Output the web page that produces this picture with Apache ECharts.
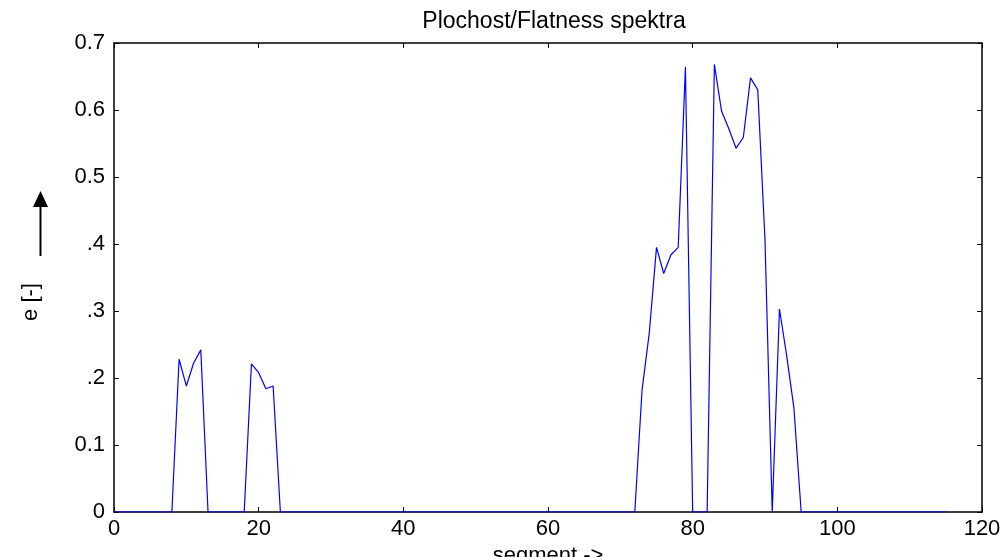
<!DOCTYPE html>
<html>
<head>
<meta charset="utf-8">
<script src="https://cdn.jsdelivr.net/npm/echarts@6/dist/echarts.min.js"></script>
<style>
html,body{margin:0;padding:0;background:#fff;}
#c{width:1005px;height:557px;}
</style>
</head>
<body>
<div id="c"></div>
<script>
// segment index 0..115
var segments = [];
for (var i = 0; i <= 115; i++) segments.push(i);

// non-zero flatness values (segment -> value); all others are 0
var block1X = [8, 9, 10, 11, 12, 13];
var block1Y = [0, 0.228, 0.188, 0.222, 0.242, 0];
var block2X = [18, 19, 20, 21, 22, 23];
var block2Y = [0, 0.221, 0.208, 0.184, 0.188, 0];
var block3X = [72, 73, 74, 75, 76, 77, 78, 79, 80, 81, 82, 83, 84, 85, 86, 87, 88, 89, 90, 91, 92, 93, 94, 95];
var block3Y = [0, 0.182, 0.267, 0.395, 0.356, 0.384, 0.395, 0.664, 0, 0, 0, 0.668, 0.598, 0.572, 0.543, 0.559, 0.648, 0.630, 0.406, 0, 0.303, 0.233, 0.155, 0];

var yTickLabels = ['0', '0.1', '.2', '.3', '.4', '0.5', '0.6', '0.7'];
var xTickLabels = ['0', '20', '40', '60', '80', '100', '120'];

var lookup = {};
[[block1X, block1Y], [block2X, block2Y], [block3X, block3Y]].forEach(function (b) {
  b[0].forEach(function (x, k) { lookup[x] = b[1][k]; });
});
var flatness = segments.map(function (x) { return [x, lookup[x] !== undefined ? lookup[x] : 0]; });

var FONT = 'Liberation Sans, Arial, sans-serif';
var chart = echarts.init(document.getElementById('c'), null, {renderer: 'canvas'});
var tickStyle = {show: true, inside: true, length: 5, lineStyle: {color: '#000', width: 1}};
var lineStyle = {show: true, onZero: false, lineStyle: {color: '#000', width: 1.5}};

chart.setOption({
  animation: false,
  backgroundColor: '#fff',
  title: {
    text: 'Plochost/Flatness spektra',
    left: 549, top: 5, textAlign: 'center',
    textStyle: {fontFamily: FONT, fontSize: 23, fontWeight: 'normal', color: '#000'}
  },
  grid: {left: 114, right: 23, top: 43, bottom: 45, containLabel: false, outerBoundsMode: 'none'},
  xAxis: [{
    type: 'value', position: 'bottom', min: 0, max: 120, interval: 20,
    name: 'segment ->', nameLocation: 'middle', nameGap: 27,
    nameTextStyle: {fontFamily: FONT, fontSize: 22, color: '#000'},
    axisLine: lineStyle, axisTick: tickStyle, splitLine: {show: false},
    axisLabel: {margin: 6, fontFamily: FONT, fontSize: 22, color: '#000',
      formatter: function (v) { return xTickLabels[Math.round(v / 20)]; }}
  }, {
    type: 'value', position: 'top', min: 0, max: 120, interval: 20,
    axisLine: lineStyle, axisTick: tickStyle, splitLine: {show: false},
    axisLabel: {show: false}
  }],
  yAxis: [{
    type: 'value', position: 'left', min: 0, max: 0.7, interval: 0.1,
    axisLine: lineStyle, axisTick: tickStyle, splitLine: {show: false},
    axisLabel: {margin: 9, fontFamily: FONT, fontSize: 22, color: '#000',
      formatter: function (v) { return yTickLabels[Math.round(v * 10)]; }}
  }, {
    type: 'value', position: 'right', min: 0, max: 0.7, interval: 0.1,
    axisLine: lineStyle, axisTick: tickStyle, splitLine: {show: false},
    axisLabel: {show: false}
  }],
  series: [{
    type: 'line', data: flatness, showSymbol: false, symbol: 'none',
    lineStyle: {color: '#0000ff', width: 1.2}, z: 5
  }],
  graphic: [
    {type: 'line', shape: {x1: 40.5, y1: 256, x2: 40.5, y2: 205}, style: {stroke: '#000', lineWidth: 2}},
    {type: 'polygon', shape: {points: [[33, 207], [48, 207], [40.5, 191]]}, style: {fill: '#000'}},
    {type: 'text', x: 31, y: 302, rotation: Math.PI / 2,
      style: {text: 'e [-]', fontFamily: FONT, fontSize: 22, fill: '#000', align: 'center', verticalAlign: 'middle'}}
  ]
});
</script>
</body>
</html>
